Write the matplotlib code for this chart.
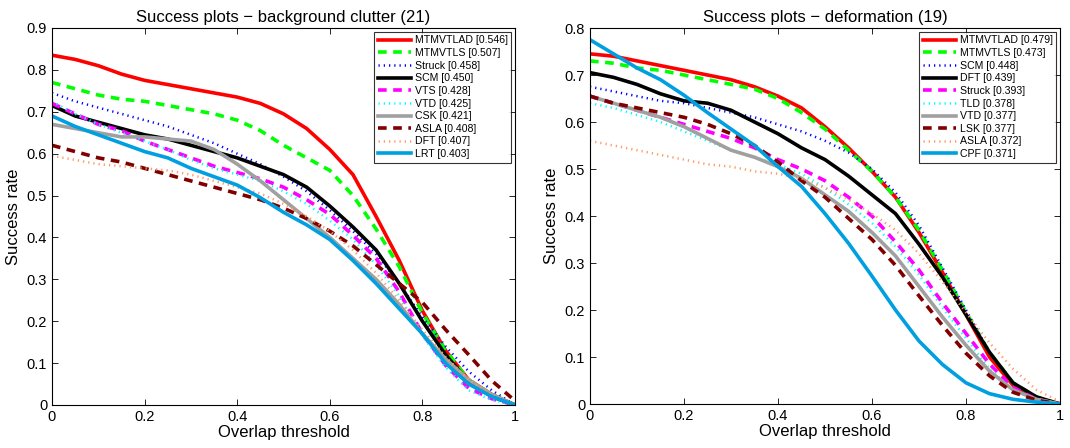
import matplotlib
matplotlib.use("Agg")
import matplotlib.pyplot as plt
import numpy as np

plt.rcParams['font.family'] = ['Liberation Sans', 'DejaVu Sans']

thresholds = [0.0, 0.05, 0.1, 0.15, 0.2, 0.25, 0.3, 0.35, 0.4, 0.45, 0.5,
              0.55, 0.6, 0.65, 0.7, 0.75, 0.8, 0.85, 0.9, 0.95, 1.0]

# ---- Left: background clutter (21)
left_title = "Success plots \u2212 background clutter (21)"
left_names = ["MTMVTLAD [0.546]", "MTMVTLS [0.507]", "Struck [0.458]", "SCM [0.450]",
              "VTS [0.428]", "VTD [0.425]", "CSK [0.421]", "ASLA [0.408]",
              "DFT [0.407]", "LRT [0.403]"]
l_mtmvtlad = [0.835, 0.825, 0.81, 0.79, 0.775, 0.765, 0.755, 0.745, 0.735, 0.72, 0.695,
              0.66, 0.61, 0.55, 0.45, 0.345, 0.225, 0.13, 0.06, 0.025, 0.0]
l_mtmvtls = [0.77, 0.755, 0.74, 0.73, 0.725, 0.715, 0.705, 0.695, 0.68, 0.655, 0.62,
             0.59, 0.56, 0.5, 0.42, 0.33, 0.22, 0.13, 0.06, 0.025, 0.0]
l_struck = [0.745, 0.725, 0.71, 0.695, 0.68, 0.665, 0.645, 0.625, 0.60, 0.575, 0.545,
            0.51, 0.465, 0.415, 0.36, 0.29, 0.21, 0.14, 0.08, 0.035, 0.0]
l_scm = [0.715, 0.69, 0.675, 0.66, 0.645, 0.635, 0.62, 0.605, 0.59, 0.57, 0.55,
         0.52, 0.475, 0.425, 0.37, 0.29, 0.20, 0.12, 0.055, 0.02, 0.0]
l_vts = [0.72, 0.695, 0.67, 0.655, 0.63, 0.61, 0.59, 0.57, 0.555, 0.54, 0.52,
         0.49, 0.455, 0.405, 0.35, 0.27, 0.17, 0.095, 0.04, 0.015, 0.0]
l_vtd = [0.725, 0.695, 0.67, 0.65, 0.63, 0.61, 0.585, 0.565, 0.55, 0.535, 0.51,
         0.48, 0.44, 0.395, 0.335, 0.26, 0.165, 0.09, 0.035, 0.012, 0.0]
l_csk = [0.67, 0.66, 0.65, 0.64, 0.64, 0.635, 0.63, 0.61, 0.575, 0.535, 0.49,
         0.445, 0.40, 0.35, 0.30, 0.24, 0.17, 0.11, 0.06, 0.025, 0.0]
l_asla = [0.62, 0.605, 0.59, 0.58, 0.565, 0.55, 0.535, 0.52, 0.505, 0.49, 0.47,
          0.445, 0.415, 0.38, 0.335, 0.29, 0.245, 0.18, 0.12, 0.058, 0.01]
l_dft = [0.595, 0.585, 0.575, 0.57, 0.565, 0.56, 0.55, 0.535, 0.52, 0.505, 0.48,
         0.45, 0.415, 0.37, 0.315, 0.25, 0.18, 0.115, 0.06, 0.025, 0.0]
l_lrt = [0.69, 0.665, 0.645, 0.625, 0.605, 0.59, 0.565, 0.545, 0.525, 0.495, 0.46,
         0.43, 0.395, 0.345, 0.29, 0.23, 0.17, 0.10, 0.05, 0.02, 0.0]
left_series = [l_mtmvtlad, l_mtmvtls, l_struck, l_scm, l_vts, l_vtd, l_csk, l_asla, l_dft, l_lrt]

# ---- Right: deformation (19)
right_title = "Success plots \u2212 deformation (19)"
right_names = ["MTMVTLAD [0.479]", "MTMVTLS [0.473]", "SCM [0.448]", "DFT [0.439]",
               "Struck [0.393]", "TLD [0.378]", "VTD [0.377]", "LSK [0.377]",
               "ASLA [0.372]", "CPF [0.371]"]
r_mtmvtlad = [0.745, 0.74, 0.73, 0.72, 0.71, 0.70, 0.69, 0.675, 0.655, 0.63, 0.59,
              0.545, 0.495, 0.44, 0.365, 0.28, 0.19, 0.10, 0.04, 0.012, 0.0]
r_mtmvtls = [0.73, 0.725, 0.715, 0.71, 0.70, 0.69, 0.68, 0.67, 0.65, 0.62, 0.585,
             0.54, 0.495, 0.44, 0.37, 0.285, 0.195, 0.11, 0.045, 0.015, 0.0]
r_scm = [0.675, 0.665, 0.655, 0.645, 0.64, 0.63, 0.62, 0.61, 0.595, 0.58, 0.56,
         0.535, 0.50, 0.45, 0.38, 0.29, 0.20, 0.11, 0.045, 0.015, 0.0]
r_dft = [0.705, 0.695, 0.68, 0.66, 0.645, 0.64, 0.625, 0.60, 0.575, 0.545, 0.52,
         0.485, 0.445, 0.405, 0.34, 0.27, 0.19, 0.11, 0.045, 0.015, 0.0]
r_struck = [0.655, 0.64, 0.625, 0.61, 0.595, 0.58, 0.565, 0.545, 0.52, 0.50, 0.475,
            0.44, 0.40, 0.345, 0.285, 0.215, 0.15, 0.085, 0.035, 0.01, 0.0]
r_tld = [0.64, 0.63, 0.615, 0.60, 0.58, 0.56, 0.54, 0.525, 0.51, 0.49, 0.46,
         0.425, 0.385, 0.335, 0.275, 0.205, 0.14, 0.075, 0.03, 0.01, 0.0]
r_vtd = [0.655, 0.64, 0.625, 0.61, 0.59, 0.565, 0.54, 0.525, 0.505, 0.48, 0.445,
         0.41, 0.365, 0.315, 0.25, 0.185, 0.125, 0.07, 0.03, 0.01, 0.0]
r_lsk = [0.655, 0.64, 0.63, 0.62, 0.61, 0.595, 0.575, 0.55, 0.515, 0.475, 0.44,
         0.395, 0.35, 0.295, 0.23, 0.167, 0.108, 0.06, 0.025, 0.008, 0.0]
r_asla = [0.56, 0.55, 0.54, 0.53, 0.52, 0.51, 0.505, 0.495, 0.49, 0.48, 0.46,
          0.435, 0.405, 0.37, 0.32, 0.26, 0.195, 0.13, 0.075, 0.03, 0.005]
r_cpf = [0.775, 0.745, 0.715, 0.69, 0.657, 0.62, 0.585, 0.55, 0.505, 0.463, 0.405,
         0.342, 0.272, 0.20, 0.134, 0.084, 0.045, 0.022, 0.01, 0.004, 0.0]
right_series = [r_mtmvtlad, r_mtmvtls, r_scm, r_dft, r_struck, r_tld, r_vtd, r_lsk, r_asla, r_cpf]

# styles per rank (same for both panels)
colors = ["#ff0000", "#00ff00", "#0000ff", "#000000", "#ff00ff",
          "#00ffff", "#a0a0a0", "#800000", "#ff9966", "#00a0e0"]
styles = ["-", "--", ":", "-", "--", ":", "-", "--", ":", "-"]
widths = [2.6, 2.6, 1.8, 2.6, 2.6, 1.8, 2.6, 2.6, 1.8, 2.6]

fig = plt.figure(figsize=(10.7, 4.48), dpi=100)
ax1 = fig.add_axes([52/1070, 1 - 405/448, 463/1070, 377/448])
ax2 = fig.add_axes([590/1070, 1 - 404/448, 470/1070, 376/448])

def draw(ax, series, names, title, ymax):
    x = np.array(thresholds)
    for s, n, c, ls, lw in zip(series, names, colors, styles, widths):
        if ls == ":":
            ax.plot(x, s, color=c, linestyle=(0, (0.5, 1.6)), linewidth=lw, label=n)
        elif ls == "--":
            ax.plot(x, s, color=c, linestyle=(0, (2.4, 1.8)), linewidth=lw, label=n)
        else:
            ax.plot(x, s, color=c, linestyle=ls, linewidth=lw, label=n)
    ax.set_xlim(0, 1)
    ax.set_ylim(0, ymax)
    ax.set_xticks(np.arange(0, 1.01, 0.2))
    ax.set_xticklabels(["0", "0.2", "0.4", "0.6", "0.8", "1"])
    yt = np.round(np.arange(0, ymax + 0.001, 0.1), 1)
    ax.set_yticks(yt)
    ax.set_yticklabels(["0"] + ["%.1f" % v for v in yt[1:]])
    ax.tick_params(direction="in", top=True, right=True, labelsize=10.5, length=4, width=0.6)
    for sp in ax.spines.values():
        sp.set_linewidth(0.8)
    ax.set_xlabel("Overlap threshold", fontsize=12, labelpad=1)
    ax.set_ylabel("Success rate", fontsize=12, labelpad=4)
    ax.set_title(title, fontsize=12, pad=4)
    leg = ax.legend(loc="upper right", fontsize=7.6, frameon=True, fancybox=False,
                    edgecolor="black", handlelength=3.2, handletextpad=0.3,
                    labelspacing=0.25, borderpad=0.35, borderaxespad=0.35)
    leg.get_frame().set_linewidth(0.8)

draw(ax1, left_series, left_names, left_title, 0.9)
draw(ax2, right_series, right_names, right_title, 0.8)

fig.savefig("out.png", dpi=100)
